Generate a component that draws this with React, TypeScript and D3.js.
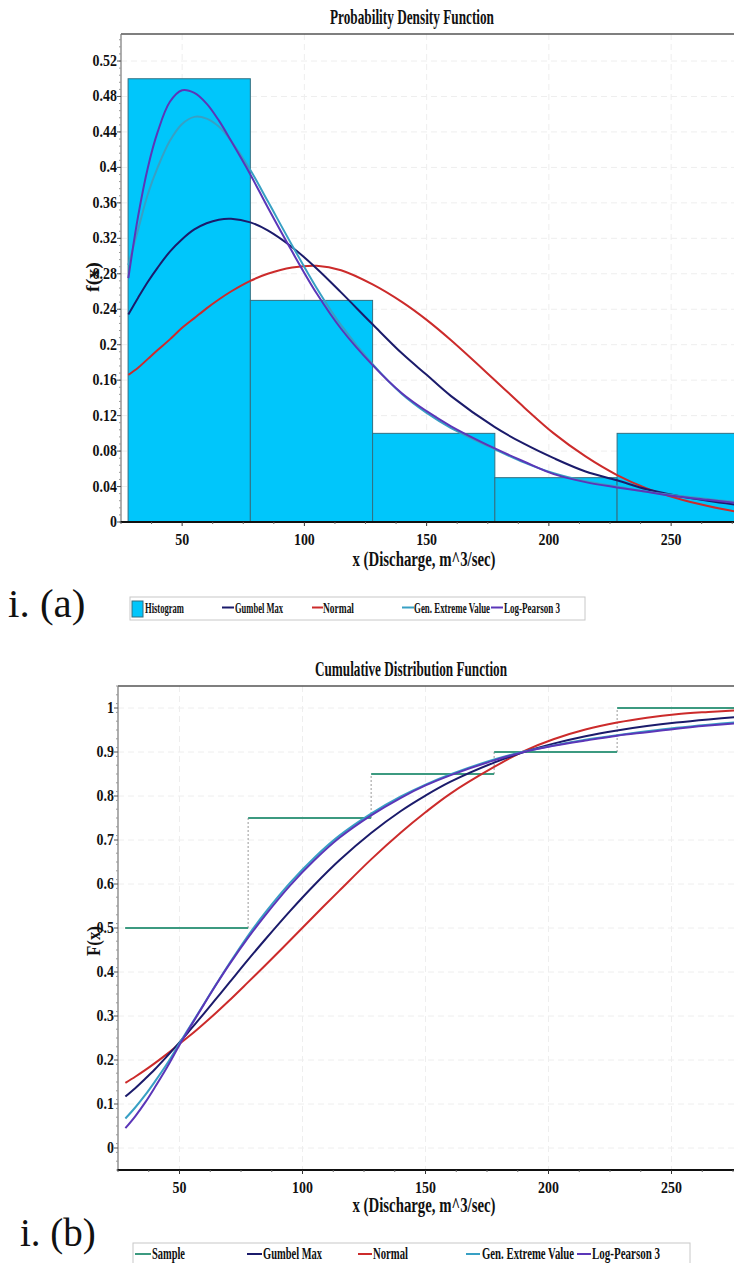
import React from "react";
import * as d3 from "d3";

// ---------- DATA ----------
const xGrid = [28, 32, 36, 40, 45, 50, 55, 60, 65, 70, 77.9, 85, 95, 105, 115, 127.9, 140, 150, 160, 177.9, 190, 202, 215, 227.9, 240, 252, 265, 278];

const pdfGumbel = [0.234, 0.253, 0.271, 0.287, 0.305, 0.319, 0.330, 0.337, 0.341, 0.342, 0.338, 0.329, 0.310, 0.286, 0.259, 0.223, 0.190, 0.166, 0.142, 0.107, 0.088, 0.072, 0.057, 0.047, 0.037, 0.030, 0.024, 0.019];
const pdfNormal = [0.166, 0.174, 0.184, 0.194, 0.206, 0.219, 0.230, 0.241, 0.251, 0.260, 0.272, 0.280, 0.287, 0.289, 0.284, 0.268, 0.248, 0.228, 0.205, 0.160, 0.129, 0.100, 0.074, 0.053, 0.038, 0.027, 0.018, 0.011];
const pdfGEV = [0.290, 0.330, 0.370, 0.400, 0.430, 0.449, 0.457, 0.455, 0.446, 0.430, 0.397, 0.362, 0.312, 0.264, 0.222, 0.178, 0.144, 0.123, 0.106, 0.082, 0.067, 0.055, 0.046, 0.040, 0.034, 0.030, 0.026, 0.022];
const pdfLP3 = [0.275, 0.345, 0.400, 0.440, 0.474, 0.487, 0.484, 0.472, 0.453, 0.430, 0.392, 0.355, 0.305, 0.258, 0.218, 0.177, 0.145, 0.125, 0.108, 0.083, 0.068, 0.054, 0.045, 0.039, 0.034, 0.029, 0.025, 0.021];

const cdfGumbel = [0.117, 0.136, 0.157, 0.179, 0.209, 0.240, 0.273, 0.306, 0.340, 0.374, 0.428, 0.475, 0.539, 0.599, 0.654, 0.716, 0.766, 0.801, 0.832, 0.876, 0.900, 0.919, 0.936, 0.949, 0.959, 0.967, 0.974, 0.980];
const cdfNormal = [0.148, 0.162, 0.177, 0.193, 0.214, 0.237, 0.259, 0.283, 0.308, 0.334, 0.377, 0.416, 0.472, 0.529, 0.585, 0.656, 0.717, 0.763, 0.805, 0.866, 0.902, 0.929, 0.951, 0.967, 0.978, 0.986, 0.991, 0.995];
const cdfGEV = [0.067, 0.092, 0.120, 0.151, 0.192, 0.238, 0.283, 0.328, 0.373, 0.417, 0.483, 0.536, 0.603, 0.661, 0.710, 0.760, 0.799, 0.826, 0.849, 0.883, 0.901, 0.915, 0.928, 0.938, 0.947, 0.955, 0.962, 0.968];
const cdfLP3 = [0.045, 0.072, 0.103, 0.138, 0.184, 0.234, 0.281, 0.327, 0.372, 0.415, 0.478, 0.530, 0.597, 0.655, 0.705, 0.756, 0.796, 0.824, 0.847, 0.881, 0.900, 0.914, 0.926, 0.937, 0.945, 0.953, 0.960, 0.966];

const binEdges = [27.9, 77.9, 127.9, 177.9, 227.9, 277.9];
const binFreq = [0.5, 0.25, 0.1, 0.05, 0.1];

const sampleEdges = [27.9, 77.9, 127.9, 177.9, 227.9, 285];
const sampleCdf = [0.5, 0.75, 0.85, 0.9, 1.0];

const xTicks = [50, 100, 150, 200, 250];
const yTicksPdf = [0, 0.04, 0.08, 0.12, 0.16, 0.2, 0.24, 0.28, 0.32, 0.36, 0.4, 0.44, 0.48, 0.52];
const yTicksCdf = [0, 0.1, 0.2, 0.3, 0.4, 0.5, 0.6, 0.7, 0.8, 0.9, 1];

const pdfTitle = "Probability Density Function";
const cdfTitle = "Cumulative Distribution Function";
const xTitle = "x (Discharge, m^3/sec)";

// ---------- STYLE ----------
const C = {
  gumbel: "#1b1b6b",
  normal: "#cc2b2b",
  gev: "#38a0c4",
  lp3: "#5b36b8",
  sample: "#3c9a80",
  histFill: "#00c6fb",
  histStroke: "#336f80",
};
const SERIF = "'Liberation Serif', 'Times New Roman', serif";
const W = 734;
const H = 1263;

function CText({ x, y, size, len, anchor = "start", children, rotate = 0, weight = "bold" }: any) {
  return (
    <text
      transform={`translate(${x},${y}) rotate(${rotate})`}
      fontSize={size}
      fontFamily={SERIF}
      fontWeight={weight}
      textAnchor={anchor}
      textLength={len}
      lengthAdjust="spacingAndGlyphs"
      fill="#111"
    >
      {children}
    </text>
  );
}

function Tick({ x, y, anchor, children }: any) {
  return (
    <text
      transform={`translate(${x},${y}) scale(0.82,1)`}
      fontSize={17}
      fontFamily={SERIF}
      fontWeight="bold"
      textAnchor={anchor}
      fill="#111"
    >
      {children}
    </text>
  );
}

function Grid({ xs, ys, left, top, bottom, yTicks }: any) {
  return (
    <g>
      {xTicks.map((v) => (
        <line key={"gx" + v} x1={xs(v)} x2={xs(v)} y1={top} y2={bottom} stroke="#eeeeee" strokeDasharray="6,4" />
      ))}
      {yTicks.map((v: number) => (
        <line key={"gy" + v} x1={left} x2={W} y1={ys(v)} y2={ys(v)} stroke="#eeeeee" strokeDasharray="6,4" />
      ))}
    </g>
  );
}

function AxesFront({ xs, ys, left, top, bottom, yTicks, yMinorStep, yDomain, fmt }: any) {
  const xMinor = d3.range(25, 285, 12.5).filter((v) => xTicks.indexOf(v) < 0);
  const yMinor = d3.range(yDomain[0], yDomain[1] + 1e-9, yMinorStep);
  return (
    <g>
      <line x1={left} x2={W} y1={top} y2={top} stroke="#555" strokeWidth={1.5} />
      <line x1={left} x2={left} y1={top} y2={bottom} stroke="#777" strokeWidth={1.2} />
      <line x1={left - 1} x2={W} y1={bottom} y2={bottom} stroke="#111" strokeWidth={2} />
      {yMinor.map((v: number, i: number) => (
        <line key={"ym" + i} x1={left - 2} x2={left} y1={ys(v)} y2={ys(v)} stroke="#999" />
      ))}
      {yTicks.map((v: number) => (
        <g key={"yt" + v}>
          <line x1={left - 4} x2={left} y1={ys(v)} y2={ys(v)} stroke="#555" />
          <Tick x={left - 4} y={ys(v) + 5} anchor="end">{fmt(v)}</Tick>
        </g>
      ))}
      {xMinor.map((v: number, i: number) => (
        <line key={"xm" + i} x1={xs(v)} x2={xs(v)} y1={bottom} y2={bottom + 2} stroke="#666" />
      ))}
      {xTicks.map((v) => (
        <g key={"xt" + v}>
          <line x1={xs(v)} x2={xs(v)} y1={bottom} y2={bottom + 4} stroke="#333" />
          <Tick x={xs(v)} y={bottom + 23} anchor="middle">{v}</Tick>
        </g>
      ))}
    </g>
  );
}

function LegendLine({ x1, x2, y, color }: any) {
  return <line x1={x1} x2={x2} y1={y} y2={y} stroke={color} strokeWidth={2} />;
}

export default function App() {
  // ----- PDF chart -----
  const aLeft = 121, aTop = 34, aBottom = 522;
  const xa = d3.scaleLinear().domain([25, 280]).range([aLeft, aLeft + 255 * 2.445]);
  const ya = d3.scaleLinear().domain([0, 0.55]).range([aBottom, aBottom - 0.55 * 886.5]);
  const lineA = (vals: number[]) =>
    d3.line<number>().x((_, i) => xa(xGrid[i])).y((d) => ya(d)).curve(d3.curveCatmullRom.alpha(0.5))(vals) || "";

  // ----- CDF chart -----
  const bLeft = 118, bTop = 686, bBottom = 1170;
  const xb = d3.scaleLinear().domain([25, 280]).range([bLeft, bLeft + 255 * 2.46]);
  const yb = d3.scaleLinear().domain([-0.05, 1.05]).range([bBottom, bTop]);
  const lineB = (vals: number[]) =>
    d3.line<number>().x((_, i) => xb(xGrid[i])).y((d) => yb(d)).curve(d3.curveCatmullRom.alpha(0.5))(vals) || "";

  const fmtA = (v: number) => (v === 0 ? "0" : String(+v.toFixed(2)));
  const fmtB = (v: number) => (v === 0 ? "0" : String(+v.toFixed(1)));

  return (
    <svg width={W} height={H} style={{ position: "absolute", left: 0, top: 0, background: "#fff" }}>
      <defs>
        <clipPath id="clipA">
          <rect x={aLeft} y={aTop} width={W - aLeft} height={aBottom - aTop} />
        </clipPath>
        <clipPath id="clipB">
          <rect x={bLeft} y={bTop} width={W - bLeft} height={bBottom - bTop} />
        </clipPath>
      </defs>
      <rect x={0} y={0} width={W} height={H} fill="#fff" />

      {/* ===== PDF ===== */}
      <CText x={412} y={24} size={21} len={164} anchor="middle">{pdfTitle}</CText>
      <Grid xs={xa} ys={ya} left={aLeft} top={aTop} bottom={aBottom} yTicks={yTicksPdf} />
      <g clipPath="url(#clipA)">
        {binFreq.map((f, i) => (
          <rect
            key={"bin" + i}
            x={xa(binEdges[i])}
            y={ya(f)}
            width={xa(binEdges[i + 1]) - xa(binEdges[i])}
            height={ya(0) - ya(f)}
            fill={C.histFill}
            stroke={C.histStroke}
            strokeWidth={1}
          />
        ))}
        <path d={lineA(pdfNormal)} fill="none" stroke={C.normal} strokeWidth={2} />
        <path d={lineA(pdfGumbel)} fill="none" stroke={C.gumbel} strokeWidth={2} />
        <path d={lineA(pdfGEV)} fill="none" stroke={C.gev} strokeWidth={2} />
        <path d={lineA(pdfLP3)} fill="none" stroke={C.lp3} strokeWidth={2} />
      </g>
      <AxesFront xs={xa} ys={ya} left={aLeft} top={aTop} bottom={aBottom} yTicks={yTicksPdf} yMinorStep={0.008} yDomain={[0, 0.55]} fmt={fmtA} />
      <CText x={99} y={277} size={19} len={30} anchor="middle" rotate={-90}>f(x)</CText>
      <CText x={424} y={566} size={20} len={143} anchor="middle">{xTitle}</CText>

      {/* legend a */}
      <text x={8} y={617} fontSize={41} fontFamily={SERIF} fill="#111">i. (a)</text>
      <rect x={130} y={597} width={455} height={23} fill="#fff" stroke="#c8c8c8" />
      <rect x={132} y={601} width={11} height={16} fill={C.histFill} stroke={C.histStroke} />
      <CText x={145} y={613} size={15} len={39}>Histogram</CText>
      <LegendLine x1={222} x2={234} y={607.5} color={C.gumbel} />
      <CText x={235} y={613} size={15} len={48}>Gumbel Max</CText>
      <LegendLine x1={312} x2={323} y={607.5} color={C.normal} />
      <CText x={323} y={613} size={15} len={31}>Normal</CText>
      <LegendLine x1={402} x2={414} y={607.5} color={C.gev} />
      <CText x={414} y={613} size={15} len={76}>Gen. Extreme Value</CText>
      <LegendLine x1={491} x2={503} y={607.5} color={C.lp3} />
      <CText x={504} y={613} size={15} len={56}>Log-Pearson 3</CText>

      {/* ===== CDF ===== */}
      <CText x={411} y={676} size={21} len={192} anchor="middle">{cdfTitle}</CText>
      <Grid xs={xb} ys={yb} left={bLeft} top={bTop} bottom={bBottom} yTicks={yTicksCdf} />
      <g clipPath="url(#clipB)">
        {sampleCdf.slice(1).map((v, i) => (
          <line
            key={"sv" + i}
            x1={xb(sampleEdges[i + 1])}
            x2={xb(sampleEdges[i + 1])}
            y1={yb(sampleCdf[i])}
            y2={yb(v)}
            stroke="#999"
            strokeDasharray="2,2"
          />
        ))}
        {sampleCdf.map((v, i) => (
          <line
            key={"sh" + i}
            x1={xb(sampleEdges[i])}
            x2={xb(sampleEdges[i + 1])}
            y1={yb(v)}
            y2={yb(v)}
            stroke={C.sample}
            strokeWidth={2}
          />
        ))}
        <path d={lineB(cdfNormal)} fill="none" stroke={C.normal} strokeWidth={2} />
        <path d={lineB(cdfGumbel)} fill="none" stroke={C.gumbel} strokeWidth={2} />
        <path d={lineB(cdfGEV)} fill="none" stroke={C.gev} strokeWidth={2} />
        <path d={lineB(cdfLP3)} fill="none" stroke={C.lp3} strokeWidth={2} />
      </g>
      <AxesFront xs={xb} ys={yb} left={bLeft} top={bTop} bottom={bBottom} yTicks={yTicksCdf} yMinorStep={0.02} yDomain={[-0.05, 1.05]} fmt={fmtB} />
      <CText x={100} y={941} size={19} len={30} anchor="middle" rotate={-90}>F(x)</CText>
      <CText x={424} y={1212} size={20} len={143} anchor="middle">{xTitle}</CText>

      {/* legend b */}
      <text x={20} y={1246} fontSize={39} fontFamily={SERIF} fill="#111">i. (b)</text>
      <rect x={133} y={1243} width={557} height={30} fill="#fff" stroke="#c8c8c8" />
      <LegendLine x1={135} x2={151} y={1254} color={C.sample} />
      <CText x={152} y={1259} size={17} len={33}>Sample</CText>
      <LegendLine x1={247} x2={262} y={1254} color={C.gumbel} />
      <CText x={263} y={1259} size={17} len={59}>Gumbel Max</CText>
      <LegendLine x1={358} x2={372} y={1254} color={C.normal} />
      <CText x={373} y={1259} size={17} len={35}>Normal</CText>
      <LegendLine x1={466} x2={480} y={1254} color={C.gev} />
      <CText x={482} y={1259} size={17} len={92}>Gen. Extreme Value</CText>
      <LegendLine x1={577} x2={591} y={1254} color={C.lp3} />
      <CText x={592} y={1259} size={17} len={68}>Log-Pearson 3</CText>
    </svg>
  );
}
